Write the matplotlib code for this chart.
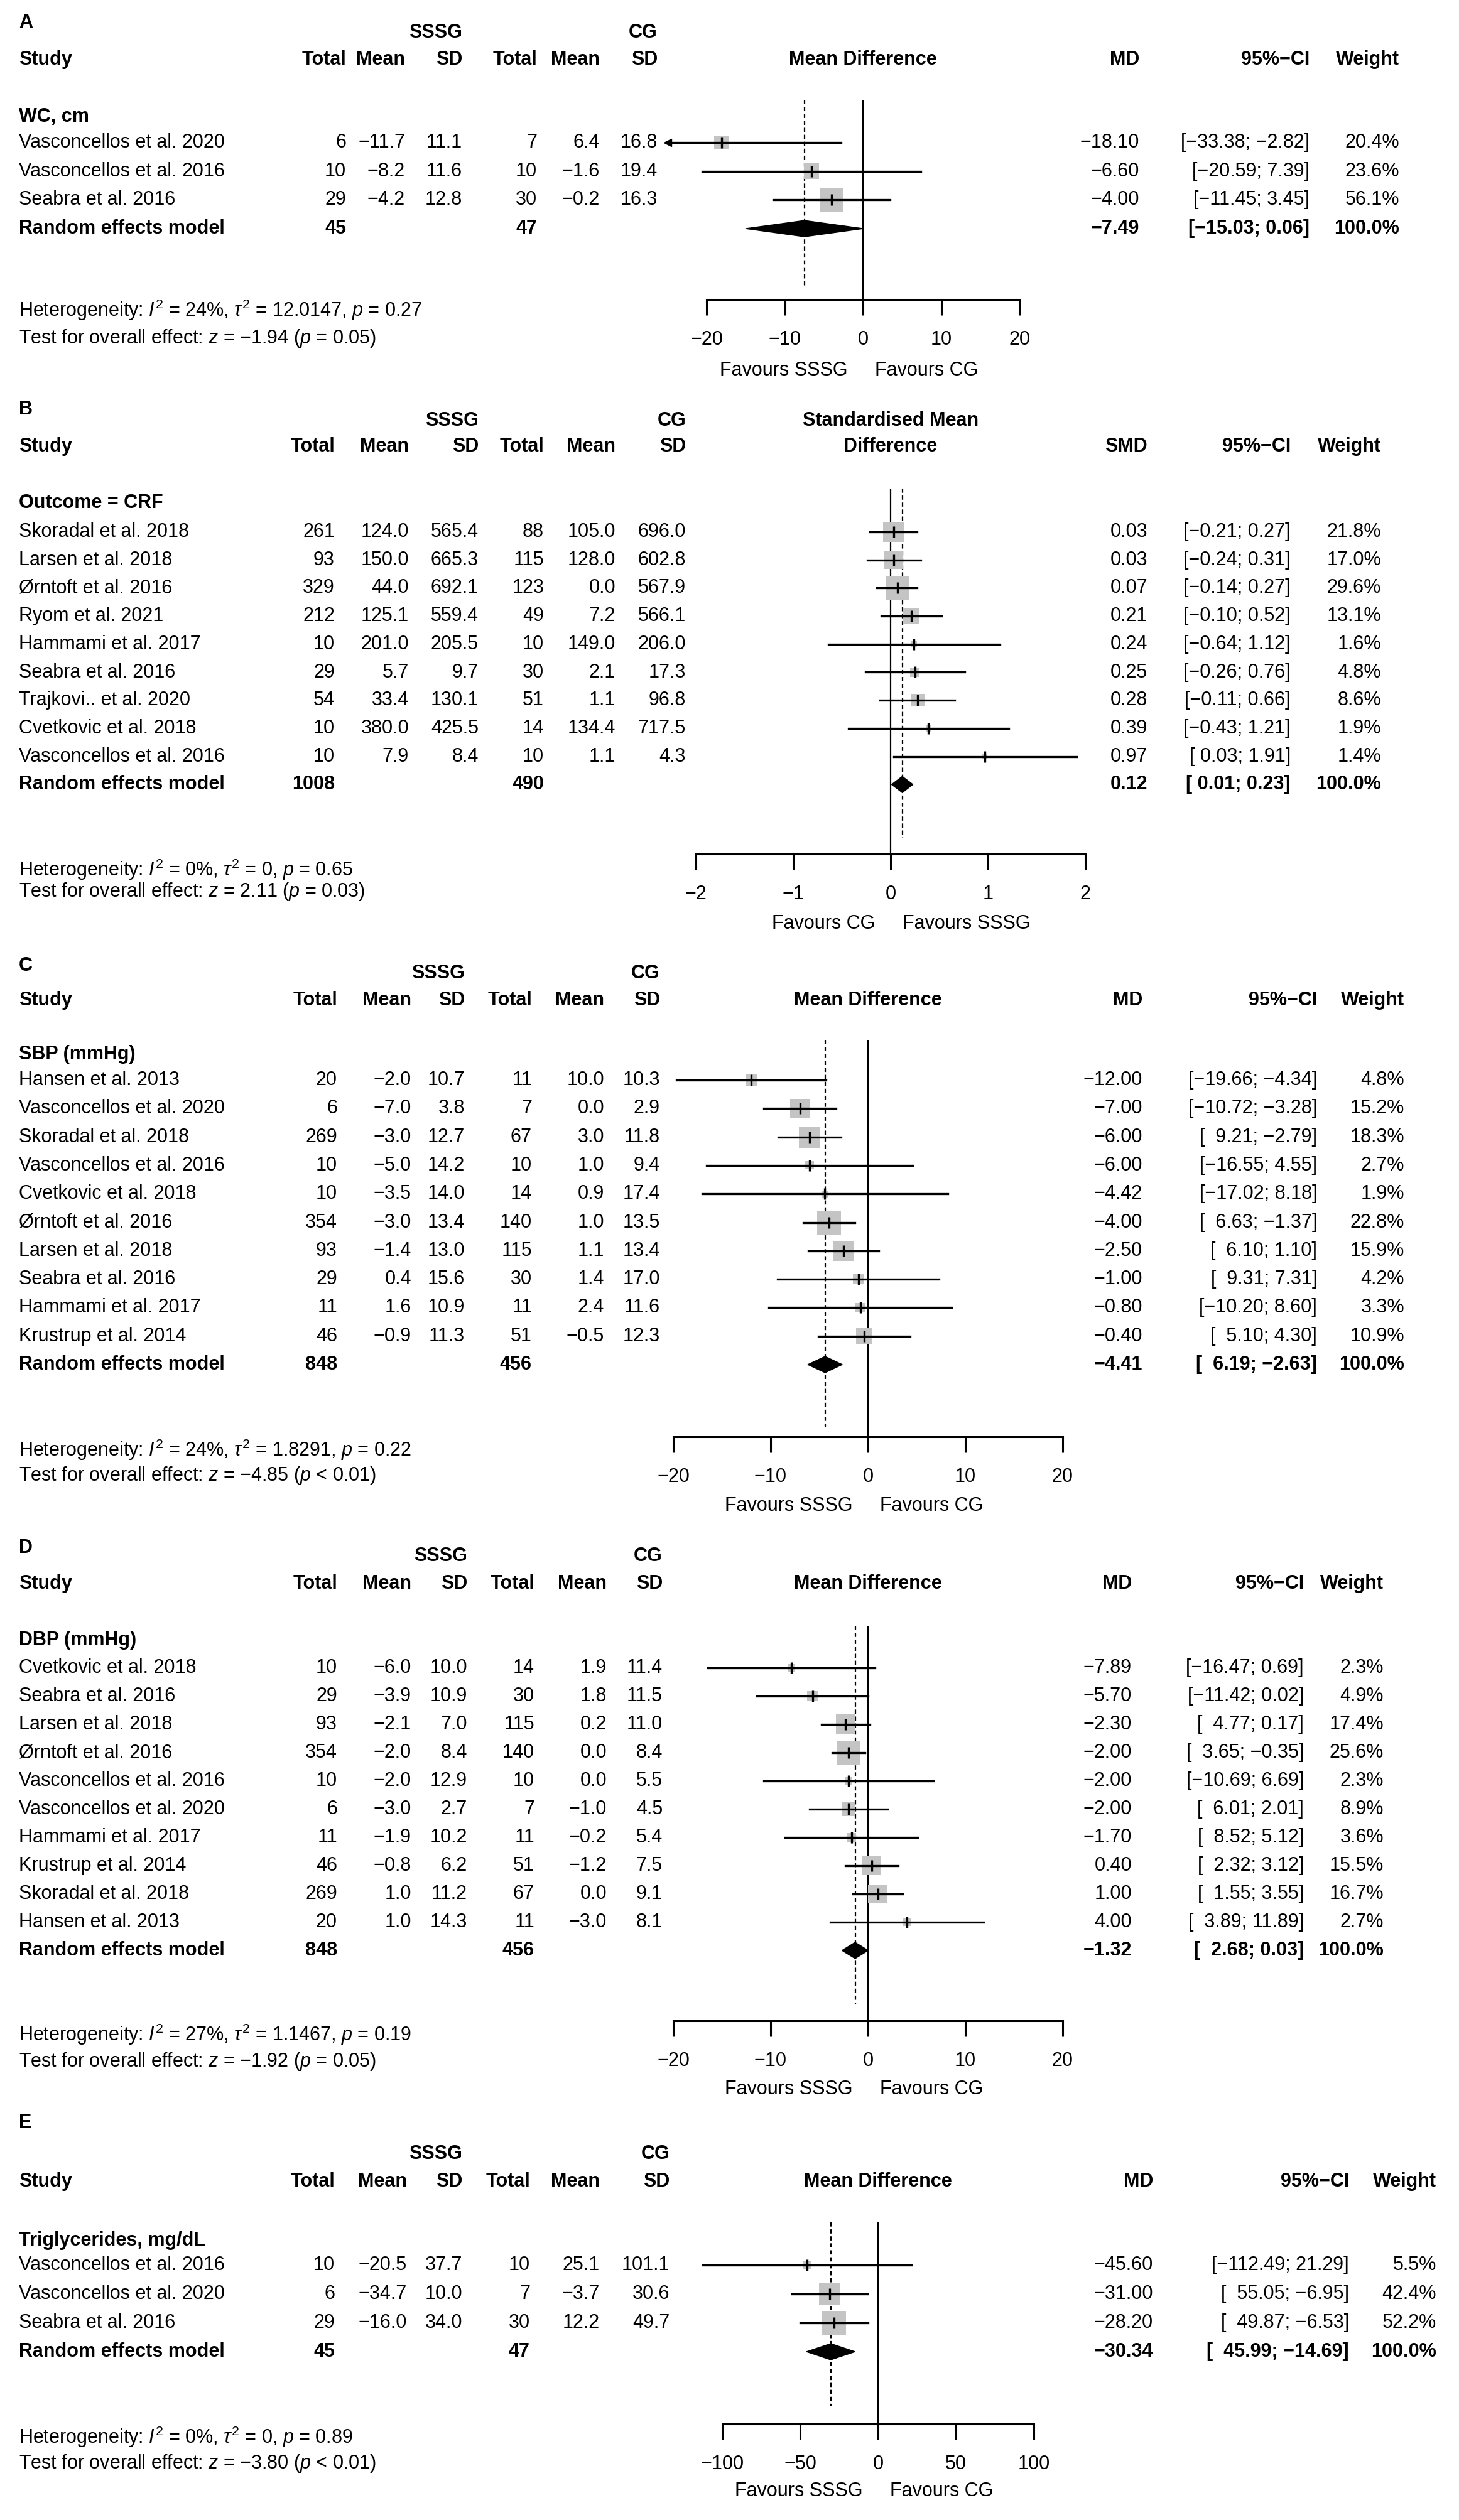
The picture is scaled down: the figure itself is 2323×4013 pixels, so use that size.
import matplotlib
matplotlib.use('Agg')
import matplotlib.pyplot as plt
from matplotlib import font_manager

# ---------------- data ----------------
# A  waist circumference
a_study = ['Vasconcellos et al. 2020', 'Vasconcellos et al. 2016', 'Seabra et al. 2016']
a_n1 = [6, 10, 29]
a_mean1 = [-11.7, -8.2, -4.2]
a_sd1 = [11.1, 11.6, 12.8]
a_n2 = [7, 10, 30]
a_mean2 = [6.4, -1.6, -0.2]
a_sd2 = [16.8, 19.4, 16.3]
a_est = [-18.10, -6.60, -4.00]
a_lo = [-33.38, -20.59, -11.45]
a_hi = [-2.82, 7.39, 3.45]
a_w = [20.4, 23.6, 56.1]
a_ci = ['[\u221233.38; \u22122.82]', '[\u221220.59; 7.39]', '[\u221211.45; 3.45]']
a_tot = [45, 47]
a_re = [-7.49, -15.03, 0.06]
a_re_ci = '[\u221215.03; 0.06]'
a_het = ['24%', '12.0147', '= 0.27', '\u22121.94', '= 0.05']

# B  cardiorespiratory fitness (SMD)
b_study = ['Skoradal et al. 2018', 'Larsen et al. 2018', '\u00d8rntoft et al. 2016', 'Ryom et al. 2021',
           'Hammami et al. 2017', 'Seabra et al. 2016', 'Trajkovi.. et al. 2020', 'Cvetkovic et al. 2018',
           'Vasconcellos et al. 2016']
b_n1 = [261, 93, 329, 212, 10, 29, 54, 10, 10]
b_mean1 = [124.0, 150.0, 44.0, 125.1, 201.0, 5.7, 33.4, 380.0, 7.9]
b_sd1 = [565.4, 665.3, 692.1, 559.4, 205.5, 9.7, 130.1, 425.5, 8.4]
b_n2 = [88, 115, 123, 49, 10, 30, 51, 14, 10]
b_mean2 = [105.0, 128.0, 0.0, 7.2, 149.0, 2.1, 1.1, 134.4, 1.1]
b_sd2 = [696.0, 602.8, 567.9, 566.1, 206.0, 17.3, 96.8, 717.5, 4.3]
b_est = [0.03, 0.03, 0.07, 0.21, 0.24, 0.25, 0.28, 0.39, 0.97]
b_lo = [-0.21, -0.24, -0.14, -0.10, -0.64, -0.26, -0.11, -0.43, 0.03]
b_hi = [0.27, 0.31, 0.27, 0.52, 1.12, 0.76, 0.66, 1.21, 1.91]
b_w = [21.8, 17.0, 29.6, 13.1, 1.6, 4.8, 8.6, 1.9, 1.4]
b_ci = ['[\u22120.21; 0.27]', '[\u22120.24; 0.31]', '[\u22120.14; 0.27]', '[\u22120.10; 0.52]',
        '[\u22120.64; 1.12]', '[\u22120.26; 0.76]', '[\u22120.11; 0.66]', '[\u22120.43; 1.21]',
        '[ 0.03; 1.91]']
b_tot = [1008, 490]
b_re = [0.12, 0.01, 0.23]
b_re_ci = '[ 0.01; 0.23]'
b_het = ['0%', '0', '= 0.65', '2.11', '= 0.03']

# C  systolic blood pressure
c_study = ['Hansen et al. 2013', 'Vasconcellos et al. 2020', 'Skoradal et al. 2018', 'Vasconcellos et al. 2016',
           'Cvetkovic et al. 2018', '\u00d8rntoft et al. 2016', 'Larsen et al. 2018', 'Seabra et al. 2016',
           'Hammami et al. 2017', 'Krustrup et al. 2014']
c_n1 = [20, 6, 269, 10, 10, 354, 93, 29, 11, 46]
c_mean1 = [-2.0, -7.0, -3.0, -5.0, -3.5, -3.0, -1.4, 0.4, 1.6, -0.9]
c_sd1 = [10.7, 3.8, 12.7, 14.2, 14.0, 13.4, 13.0, 15.6, 10.9, 11.3]
c_n2 = [11, 7, 67, 10, 14, 140, 115, 30, 11, 51]
c_mean2 = [10.0, 0.0, 3.0, 1.0, 0.9, 1.0, 1.1, 1.4, 2.4, -0.5]
c_sd2 = [10.3, 2.9, 11.8, 9.4, 17.4, 13.5, 13.4, 17.0, 11.6, 12.3]
c_est = [-12.00, -7.00, -6.00, -6.00, -4.42, -4.00, -2.50, -1.00, -0.80, -0.40]
c_lo = [-19.66, -10.72, -9.21, -16.55, -17.02, -6.63, -6.10, -9.31, -10.20, -5.10]
c_hi = [-4.34, -3.28, -2.79, 4.55, 8.18, -1.37, 1.10, 7.31, 8.60, 4.30]
c_w = [4.8, 15.2, 18.3, 2.7, 1.9, 22.8, 15.9, 4.2, 3.3, 10.9]
c_ci = ['[\u221219.66; \u22124.34]', '[\u221210.72; \u22123.28]', '[  9.21; \u22122.79]', '[\u221216.55; 4.55]',
        '[\u221217.02; 8.18]', '[  6.63; \u22121.37]', '[  6.10; 1.10]', '[  9.31; 7.31]',
        '[\u221210.20; 8.60]', '[  5.10; 4.30]']
c_tot = [848, 456]
c_re = [-4.41, -6.19, -2.63]
c_re_ci = '[  6.19; \u22122.63]'
c_het = ['24%', '1.8291', '= 0.22', '\u22124.85', '< 0.01']

# D  diastolic blood pressure
d_study = ['Cvetkovic et al. 2018', 'Seabra et al. 2016', 'Larsen et al. 2018', '\u00d8rntoft et al. 2016',
           'Vasconcellos et al. 2016', 'Vasconcellos et al. 2020', 'Hammami et al. 2017',
           'Krustrup et al. 2014', 'Skoradal et al. 2018', 'Hansen et al. 2013']
d_n1 = [10, 29, 93, 354, 10, 6, 11, 46, 269, 20]
d_mean1 = [-6.0, -3.9, -2.1, -2.0, -2.0, -3.0, -1.9, -0.8, 1.0, 1.0]
d_sd1 = [10.0, 10.9, 7.0, 8.4, 12.9, 2.7, 10.2, 6.2, 11.2, 14.3]
d_n2 = [14, 30, 115, 140, 10, 7, 11, 51, 67, 11]
d_mean2 = [1.9, 1.8, 0.2, 0.0, 0.0, -1.0, -0.2, -1.2, 0.0, -3.0]
d_sd2 = [11.4, 11.5, 11.0, 8.4, 5.5, 4.5, 5.4, 7.5, 9.1, 8.1]
d_est = [-7.89, -5.70, -2.30, -2.00, -2.00, -2.00, -1.70, 0.40, 1.00, 4.00]
d_lo = [-16.47, -11.42, -4.77, -3.65, -10.69, -6.01, -8.52, -2.32, -1.55, -3.89]
d_hi = [0.69, 0.02, 0.17, -0.35, 6.69, 2.01, 5.12, 3.12, 3.55, 11.89]
d_w = [2.3, 4.9, 17.4, 25.6, 2.3, 8.9, 3.6, 15.5, 16.7, 2.7]
d_ci = ['[\u221216.47; 0.69]', '[\u221211.42; 0.02]', '[  4.77; 0.17]', '[  3.65; \u22120.35]',
        '[\u221210.69; 6.69]', '[  6.01; 2.01]', '[  8.52; 5.12]', '[  2.32; 3.12]',
        '[  1.55; 3.55]', '[  3.89; 11.89]']
d_tot = [848, 456]
d_re = [-1.32, -2.68, 0.03]
d_re_ci = '[  2.68; 0.03]'
d_het = ['27%', '1.1467', '= 0.19', '\u22121.92', '= 0.05']

# E  triglycerides
e_study = ['Vasconcellos et al. 2016', 'Vasconcellos et al. 2020', 'Seabra et al. 2016']
e_n1 = [10, 6, 29]
e_mean1 = [-20.5, -34.7, -16.0]
e_sd1 = [37.7, 10.0, 34.0]
e_n2 = [10, 7, 30]
e_mean2 = [25.1, -3.7, 12.2]
e_sd2 = [101.1, 30.6, 49.7]
e_est = [-45.60, -31.00, -28.20]
e_lo = [-112.49, -55.05, -49.87]
e_hi = [21.29, -6.95, -6.53]
e_w = [5.5, 42.4, 52.2]
e_ci = ['[\u2212112.49; 21.29]', '[  55.05; \u22126.95]', '[  49.87; \u22126.53]']
e_tot = [45, 47]
e_re = [-30.34, -45.99, -14.69]
e_re_ci = '[  45.99; \u221214.69]'
e_het = ['0%', '0', '= 0.89', '\u22123.80', '< 0.01']

# ---------------- style ----------------
names = {f.name for f in font_manager.fontManager.ttflist}
FONT = 'Liberation Sans Narrow' if 'Liberation Sans Narrow' in names else 'Liberation Sans'
FS = 26 if FONT == 'Liberation Sans Narrow' else 22
plt.rcParams['font.family'] = [FONT, 'DejaVu Sans']
plt.rcParams['font.size'] = FS
plt.rcParams['mathtext.fontset'] = 'custom'
plt.rcParams['mathtext.rm'] = FONT
plt.rcParams['mathtext.it'] = FONT + ':italic'
plt.rcParams['mathtext.bf'] = FONT + ':bold'

W, H = 2323, 4013
fig = plt.figure(figsize=(W / 100, H / 100), dpi=100)
canvas = fig.add_axes([0, 0, 1, 1])
canvas.set_xlim(0, W)
canvas.set_ylim(H, 0)
canvas.axis('off')

STUDY_X = 30
BOX_MAX = 38     # px, side of the largest weight box
GREY = '#c4c4c4'


def num(v, d):
    return f'{v:.{d}f}'.replace('-', '\u2212')


def T(x, y, s, ha='left', bold=False):
    canvas.text(x, y, s, ha=ha, va='center', fontsize=FS,
                fontweight='bold' if bold else 'normal', color='black')


panels = [
    dict(letter='A', sub='WC, cm', eff=['Mean Difference'], col='MD', fav=('Favours SSSG', 'Favours CG'),
         study=a_study, n1=a_n1, m1=a_mean1, sd1=a_sd1, n2=a_n2, m2=a_mean2, sd2=a_sd2,
         est=a_est, lo=a_lo, hi=a_hi, w=a_w, ci=a_ci, tot=a_tot, re=a_re, re_ci=a_re_ci, het=a_het,
         letter_y=36, group_y=52, head_y=95, sub_y=186, y0=227, s=45.7, top=159, dash_bot=457,
         axis=477, het_y=494, test_y=539, fav_y=590,
         cols=[551, 645, 736, 855, 955, 1047], md_x=1814, ci_x=2085, w_x=2228,
         px=(1125, 1623), xlim=(-20, 20), ticks=[-20, -10, 0, 10, 20], clip_lo=-25),
    dict(letter='B', sub='Outcome = CRF', eff=['Standardised Mean', 'Difference'], col='SMD',
         fav=('Favours CG', 'Favours SSSG'),
         study=b_study, n1=b_n1, m1=b_mean1, sd1=b_sd1, n2=b_n2, m2=b_mean2, sd2=b_sd2,
         est=b_est, lo=b_lo, hi=b_hi, w=b_w, ci=b_ci, tot=b_tot, re=b_re, re_ci=b_re_ci, het=b_het,
         letter_y=652, group_y=670, head_y=711, sub_y=801, y0=847, s=44.7, top=778, dash_bot=1334,
         axis=1360, het_y=1385, test_y=1420, fav_y=1471,
         cols=[533, 651, 762, 866, 980, 1092], md_x=1827, ci_x=2055, w_x=2199,
         px=(1108, 1728), xlim=(-2, 2), ticks=[-2, -1, 0, 1, 2], clip_lo=None),
    dict(letter='C', sub='SBP (mmHg)', eff=['Mean Difference'], col='MD', fav=('Favours SSSG', 'Favours CG'),
         study=c_study, n1=c_n1, m1=c_mean1, sd1=c_sd1, n2=c_n2, m2=c_mean2, sd2=c_sd2,
         est=c_est, lo=c_lo, hi=c_hi, w=c_w, ci=c_ci, tot=c_tot, re=c_re, re_ci=c_re_ci, het=c_het,
         letter_y=1538, group_y=1550, head_y=1593, sub_y=1679, y0=1720, s=45.3, top=1656, dash_bot=2272,
         axis=2288, het_y=2309, test_y=2350, fav_y=2398,
         cols=[537, 655, 740, 847, 962, 1051], md_x=1819, ci_x=2097, w_x=2236,
         px=(1072, 1692), xlim=(-20, 20), ticks=[-20, -10, 0, 10, 20], clip_lo=None),
    dict(letter='D', sub='DBP (mmHg)', eff=['Mean Difference'], col='MD', fav=('Favours SSSG', 'Favours CG'),
         study=d_study, n1=d_n1, m1=d_mean1, sd1=d_sd1, n2=d_n2, m2=d_mean2, sd2=d_sd2,
         est=d_est, lo=d_lo, hi=d_hi, w=d_w, ci=d_ci, tot=d_tot, re=d_re, re_ci=d_re_ci, het=d_het,
         letter_y=2465, group_y=2478, head_y=2522, sub_y=2612, y0=2656, s=45.0, top=2589, dash_bot=3192,
         axis=3218, het_y=3240, test_y=3283, fav_y=3327,
         cols=[537, 655, 744, 851, 966, 1055], md_x=1802, ci_x=2076, w_x=2203,
         px=(1072, 1692), xlim=(-20, 20), ticks=[-20, -10, 0, 10, 20], clip_lo=None),
    dict(letter='E', sub='Triglycerides, mg/dL', eff=['Mean Difference'], col='MD',
         fav=('Favours SSSG', 'Favours CG'),
         study=e_study, n1=e_n1, m1=e_mean1, sd1=e_sd1, n2=e_n2, m2=e_mean2, sd2=e_sd2,
         est=e_est, lo=e_lo, hi=e_hi, w=e_w, ci=e_ci, tot=e_tot, re=e_re, re_ci=e_re_ci, het=e_het,
         letter_y=3380, group_y=3430, head_y=3474, sub_y=3568, y0=3607, s=46.0, top=3539, dash_bot=3832,
         axis=3860, het_y=3881, test_y=3923, fav_y=3967,
         cols=[533, 648, 736, 844, 955, 1066], md_x=1836, ci_x=2148, w_x=2287,
         px=(1150, 1646), xlim=(-100, 100), ticks=[-100, -50, 0, 50, 100], clip_lo=None),
]

for p in panels:
    cols = p['cols']
    k = len(p['study'])
    rows = [p['y0'] + i * p['s'] for i in range(k)]
    y_re = p['y0'] + k * p['s']

    # ---- table text ----
    T(STUDY_X, p['letter_y'], p['letter'], bold=True)
    T(cols[2], p['group_y'], 'SSSG', ha='right', bold=True)
    T(cols[5], p['group_y'], 'CG', ha='right', bold=True)
    T(STUDY_X, p['head_y'], 'Study', bold=True)
    for x, lab in zip(cols, ['Total', 'Mean', 'SD', 'Total', 'Mean', 'SD']):
        T(x, p['head_y'], lab, ha='right', bold=True)
    mid = (p['px'][0] + p['px'][1]) / 2
    if len(p['eff']) == 1:
        T(mid, p['head_y'], p['eff'][0], ha='center', bold=True)
    else:
        T(mid, p['group_y'], p['eff'][0], ha='center', bold=True)
        T(mid, p['head_y'], p['eff'][1], ha='center', bold=True)
    T(p['md_x'], p['head_y'], p['col'], ha='right', bold=True)
    T(p['ci_x'], p['head_y'], '95%\u2212CI', ha='right', bold=True)
    T(p['w_x'], p['head_y'], 'Weight', ha='right', bold=True)
    T(STUDY_X, p['sub_y'], p['sub'], bold=True)

    for i, y in enumerate(rows):
        T(STUDY_X, y, p['study'][i])
        vals = [str(p['n1'][i]), num(p['m1'][i], 1), num(p['sd1'][i], 1),
                str(p['n2'][i]), num(p['m2'][i], 1), num(p['sd2'][i], 1)]
        for x, v in zip(cols, vals):
            T(x, y, v, ha='right')
        T(p['md_x'], y, num(p['est'][i], 2), ha='right')
        T(p['ci_x'], y, p['ci'][i], ha='right')
        T(p['w_x'], y, f"{p['w'][i]:.1f}%", ha='right')

    T(STUDY_X, y_re, 'Random effects model', bold=True)
    T(cols[0], y_re, str(p['tot'][0]), ha='right', bold=True)
    T(cols[3], y_re, str(p['tot'][1]), ha='right', bold=True)
    T(p['md_x'], y_re, num(p['re'][0], 2), ha='right', bold=True)
    T(p['ci_x'], y_re, p['re_ci'], ha='right', bold=True)
    T(p['w_x'], y_re, '100.0%', ha='right', bold=True)

    i2, tau2, ph, z, pz = p['het']
    T(STUDY_X, p['het_y'], f'Heterogeneity: $I^2$ = {i2}, $\\tau^2$ = {tau2}, $p$ {ph}')
    T(STUDY_X, p['test_y'], f'Test for overall effect: $z$ = {z} ($p$ {pz})')

    # ---- forest ----
    x0, x1 = p['px']
    ax = fig.add_axes([x0 / W, 1 - p['axis'] / H, (x1 - x0) / W, (p['axis'] - p['top']) / H])
    ax.set_xlim(*p['xlim'])
    ax.set_ylim(p['axis'], p['top'])
    ax.patch.set_alpha(0)
    for side in ['top', 'left', 'right']:
        ax.spines[side].set_visible(False)
    ax.spines['bottom'].set_linewidth(2.2)
    ax.set_yticks([])
    ax.set_xticks(p['ticks'])
    ax.tick_params(axis='x', length=18, width=2.2, direction='out', pad=17, labelsize=FS)

    ax.axvline(0, color='black', lw=1.6, zorder=1)
    ax.plot([p['re'][0]] * 2, [p['top'], p['dash_bot']], color='black', lw=1.6,
            ls=(0, (3, 2)), zorder=1)

    wmax = max(p['w'])
    sizes = [(BOX_MAX * (wi / wmax) ** 0.5 * 0.72) ** 2 for wi in p['w']]
    ax.scatter(p['est'], rows, s=sizes, marker='s', color=GREY, linewidths=0, zorder=2, clip_on=False)
    for i, y in enumerate(rows):
        lo = p['lo'][i]
        if p['clip_lo'] is not None and lo < p['clip_lo']:
            lo = p['clip_lo']
            ax.plot(lo, y, marker='<', ms=9, color='black', clip_on=False, zorder=3)
        ax.plot([lo, p['hi'][i]], [y, y], color='black', lw=2.4, clip_on=False, zorder=3)
    ax.scatter(p['est'], rows, s=13 ** 2, marker='|', color='black', linewidths=2.4,
               zorder=4, clip_on=False)

    est, lo, hi = p['re']
    ax.fill([lo, est, hi, est], [y_re, y_re - 13, y_re, y_re + 13], color='black',
            zorder=4, clip_on=False)

    ax.annotate(p['fav'][0], xy=(0, p['fav_y']), xytext=(-18, 0), textcoords='offset points',
                ha='right', va='center', fontsize=FS, annotation_clip=False)
    ax.annotate(p['fav'][1], xy=(0, p['fav_y']), xytext=(14, 0), textcoords='offset points',
                ha='left', va='center', fontsize=FS, annotation_clip=False)

fig.savefig('out.png', dpi=100, facecolor='white')
